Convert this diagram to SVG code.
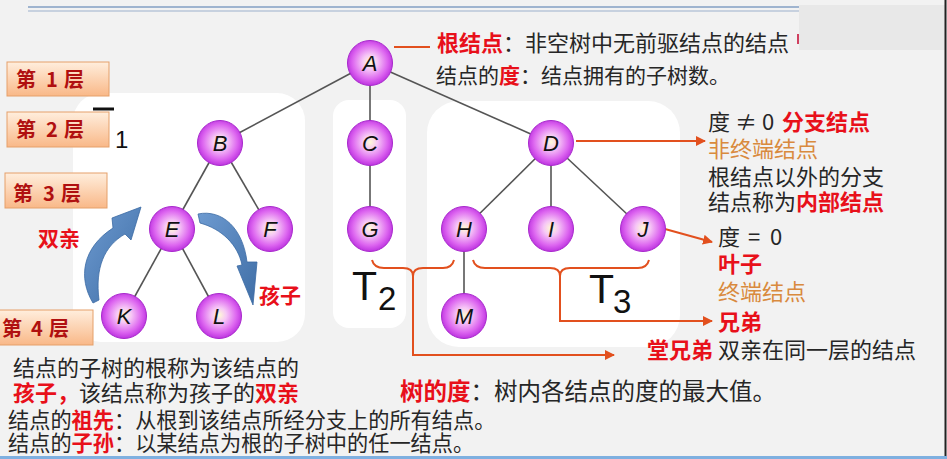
<svg xmlns="http://www.w3.org/2000/svg" width="947" height="459" viewBox="0 0 947 459">
<style>
.t{font-family:"Noto Sans CJK SC","Noto Sans",sans-serif;fill:#262626}
.r{fill:#e8101a;font-weight:bold}
.o{fill:#d98a3e}
.lay{font-family:"Noto Sans CJK SC","Noto Sans",sans-serif;font-size:20px;font-weight:bold;fill:#b01010}
.nl{font-family:"Liberation Sans",Arial,sans-serif;font-style:italic;font-size:22px;fill:#111;text-anchor:middle}
.edge{stroke:#555;stroke-width:1.6;fill:none}
.red{stroke:#e2501e;stroke-width:2;fill:none}
.T{font-family:"Liberation Sans",Arial,sans-serif;fill:#111}
.box{fill:url(#lg);stroke:#e5a06a;stroke-width:1}
.nd{fill:url(#ng);stroke:#a828cc;stroke-width:1}
.ba{fill:url(#bg);stroke:#3a6aa3;stroke-width:0.8}
</style>
<defs>
<radialGradient id="ng" cx="50%" cy="48%" r="55%">
<stop offset="0" stop-color="#fffbd6"/>
<stop offset="0.3" stop-color="#f6c6f6"/>
<stop offset="0.7" stop-color="#dd66f0"/>
<stop offset="1" stop-color="#b628dc"/>
</radialGradient>
<linearGradient id="lg" x1="0" y1="0" x2="0" y2="1">
<stop offset="0" stop-color="#ffeedd"/>
<stop offset="1" stop-color="#f9b888"/>
</linearGradient>
<linearGradient id="bg" x1="0" y1="0" x2="1" y2="1">
<stop offset="0" stop-color="#6d9ad0"/>
<stop offset="1" stop-color="#3f6ea6"/>
</linearGradient>
<marker id="ah" viewBox="0 0 10 10" refX="9" refY="5" markerWidth="5" markerHeight="5" orient="auto" markerUnits="strokeWidth">
<path d="M0,0 L10,5 L0,10 Z" fill="#e2501e"/>
</marker>
</defs>

<rect x="0" y="0" width="947" height="459" fill="#f2f2f2"/>
<line x1="28" y1="7" x2="800" y2="7" stroke="#9fb4cf" stroke-width="2"/>
<line x1="28" y1="11" x2="800" y2="11" stroke="#b8c6d8" stroke-width="1.5"/>
<rect x="799" y="5" width="146" height="45" fill="#e8e8e8"/>
<rect x="797" y="34" width="2" height="10" fill="#d04060"/>
<line x1="945.5" y1="0" x2="945.5" y2="459" stroke="#222" stroke-width="2"/>
<rect x="0" y="456" width="947" height="3" fill="#7fb0e0"/>

<g id="panels" fill="#ffffff">
<rect x="73" y="93" width="232" height="249" rx="28"/>
<rect x="333" y="100" width="73" height="228" rx="16"/>
<rect x="427" y="101" width="253" height="246" rx="32"/>
</g>

<g id="layers">
<g id="layer1"><rect class="box" x="7" y="62" width="102" height="34"/><text class="lay" y="87"><tspan x="16">第</tspan><tspan x="46">1</tspan><tspan x="64">层</tspan></text></g>
<g id="layer2"><rect class="box" x="7" y="112" width="102" height="35"/><text class="lay" y="137"><tspan x="16">第</tspan><tspan x="46">2</tspan><tspan x="64">层</tspan></text></g>
<g id="layer3"><rect class="box" x="5" y="173" width="102" height="35"/><text class="lay" y="201"><tspan x="13">第</tspan><tspan x="43">3</tspan><tspan x="61">层</tspan></text></g>
<g id="layer4"><rect class="box" x="-1" y="310" width="94" height="35"/><text class="lay" y="336"><tspan x="2">第</tspan><tspan x="31">4</tspan><tspan x="49">层</tspan></text></g>
</g>

<line x1="93" y1="109" x2="114" y2="109" stroke="#111" stroke-width="3"/>
<text class="T" x="115" y="148" font-size="24">1</text>
<text class="T" x="352" y="300" font-size="41">T</text><text class="T" x="378" y="310" font-size="33">2</text>
<text class="T" x="589" y="303" font-size="41">T</text><text class="T" x="613" y="313" font-size="33">3</text>

<g id="connectors">
<line class="edge" x1="370" y1="63" x2="220" y2="143"/>
<line class="edge" x1="370" y1="63" x2="370" y2="143"/>
<line class="edge" x1="370" y1="63" x2="551" y2="143"/>
<line class="edge" x1="220" y1="143" x2="172" y2="229"/>
<line class="edge" x1="220" y1="143" x2="270" y2="229"/>
<line class="edge" x1="370" y1="143" x2="370" y2="229"/>
<line class="edge" x1="551" y1="143" x2="464" y2="229"/>
<line class="edge" x1="551" y1="143" x2="551" y2="229"/>
<line class="edge" x1="551" y1="143" x2="643" y2="229"/>
<line class="edge" x1="172" y1="229" x2="124" y2="316"/>
<line class="edge" x1="172" y1="229" x2="219" y2="316"/>
<line class="edge" x1="464" y1="229" x2="464" y2="316"/>
<line class="red" x1="394" y1="47" x2="430" y2="47"/>
<line class="red" x1="576" y1="141" x2="705" y2="141" marker-end="url(#ah)"/>
<line class="red" x1="665" y1="229" x2="712" y2="242" marker-end="url(#ah)"/>
<path class="red" d="M372,260 Q374,268 384,268 L403,268 Q413,268 413,276 M413,276 Q413,268 423,268 L443,268 Q452,268 454,260"/>
<path class="red" d="M413,272 L413,355 L614,355" marker-end="url(#ah)"/>
<path class="red" d="M473,260 Q475,268 485,268 L550,268 Q560,268 560,276 M560,276 Q560,268 570,268 L638,268 Q647,268 649,260"/>
<path class="red" d="M560,272 L560,321 L712,321" marker-end="url(#ah)"/>
<path class="ba" d="M93,303 C78,278 82,248 113,228 L112,218 L141,207 L131,240 L125,234 C104,246 95,268 99,300 Z"/>
<path class="ba" d="M198,214 C222,209 243,228 247,262 L257,262 L253,305 L237,266 L242,265 C238,245 222,229 200,223 Z"/>
</g>

<g id="nodes">
<g id="A"><circle class="nd" cx="370" cy="63" r="22.5"/><text class="nl" x="370" y="71">A</text></g>
<g id="B"><circle class="nd" cx="220" cy="143" r="22.5"/><text class="nl" x="220" y="151">B</text></g>
<g id="C"><circle class="nd" cx="370" cy="143" r="22.5"/><text class="nl" x="370" y="151">C</text></g>
<g id="D"><circle class="nd" cx="551" cy="143" r="22.5"/><text class="nl" x="551" y="151">D</text></g>
<g id="E"><circle class="nd" cx="172" cy="229" r="22.5"/><text class="nl" x="172" y="237">E</text></g>
<g id="F"><circle class="nd" cx="270" cy="229" r="22.5"/><text class="nl" x="270" y="237">F</text></g>
<g id="G"><circle class="nd" cx="370" cy="229" r="22.5"/><text class="nl" x="370" y="237">G</text></g>
<g id="H"><circle class="nd" cx="464" cy="229" r="22.5"/><text class="nl" x="464" y="237">H</text></g>
<g id="I"><circle class="nd" cx="551" cy="229" r="22.5"/><text class="nl" x="551" y="237">I</text></g>
<g id="J"><circle class="nd" cx="643" cy="229" r="22.5"/><text class="nl" x="643" y="237">J</text></g>
<g id="K"><circle class="nd" cx="124" cy="316" r="22.5"/><text class="nl" x="124" y="324">K</text></g>
<g id="L"><circle class="nd" cx="219" cy="316" r="22.5"/><text class="nl" x="219" y="324">L</text></g>
<g id="M"><circle class="nd" cx="464" cy="316" r="22.5"/><text class="nl" x="464" y="324">M</text></g>
</g>

<g id="labels">
<text class="t" x="437" y="51" font-size="22"><tspan class="r">根结点</tspan>：非空树中无前驱结点的结点</text>
<text class="t" x="436" y="83" font-size="21">结点的<tspan class="r">度</tspan>：结点拥有的子树数。</text>
<text class="t" x="708" y="130" font-size="22">度<tspan x="735">≠</tspan><tspan x="762">0</tspan><tspan x="782" class="r">分支结点</tspan></text>
<text class="t o" x="708" y="157" font-size="22">非终端结点</text>
<text class="t" x="708" y="185" font-size="22">根结点以外的分支</text>
<text class="t" x="708" y="210" font-size="22">结点称为<tspan class="r">内部结点</tspan></text>
<text class="t" x="718" y="245" font-size="22">度<tspan x="748">=</tspan><tspan x="770">0</tspan></text>
<text class="t r" x="718" y="272" font-size="22">叶子</text>
<text class="t o" x="718" y="300" font-size="22">终端结点</text>
<text class="t r" x="718" y="330" font-size="22">兄弟</text>
<text class="t" x="647" y="358" font-size="22"><tspan class="r">堂兄弟</tspan> 双亲在同一层的结点</text>
<text class="t r" x="38" y="246" font-size="21">双亲</text>
<text class="t r" x="259" y="303" font-size="21">孩子</text>
<text class="t" x="400" y="400" font-size="23.5"><tspan class="r">树的度</tspan>：树内各结点的度的最大值。</text>
<text class="t" x="13" y="376" font-size="22">结点的子树的根称为该结点的</text>
<text class="t" x="13" y="401" font-size="22"><tspan class="r">孩子，</tspan>该结点称为孩子的<tspan class="r">双亲</tspan></text>
<text class="t" x="8" y="428" font-size="21.2">结点的<tspan class="r">祖先</tspan>：从根到该结点所经分支上的所有结点。</text>
<text class="t" x="8" y="451" font-size="21.2">结点的<tspan class="r">子孙</tspan>：以某结点为根的子树中的任一结点。</text>
</g>
</svg>
